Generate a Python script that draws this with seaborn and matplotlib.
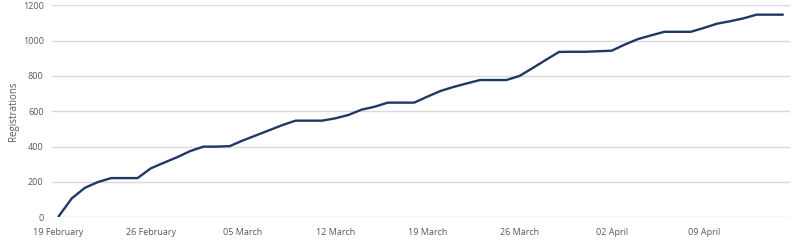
import matplotlib
matplotlib.use("Agg")
import matplotlib.pyplot as plt
import seaborn as sns
import pandas as pd
import numpy as np

start_date = "2021-02-19"
registrations = [5, 107, 167, 200, 222, 222, 222, 277, 309, 340,
                 375, 400, 400, 403, 435, 464, 493, 522, 547, 547,
                 547, 560, 579, 609, 626, 649, 649, 649, 683, 715,
                 738, 758, 777, 777, 777, 800, 845, 891, 936, 937,
                 937, 940, 943, 978, 1009, 1030, 1050, 1050, 1050, 1072,
                 1096, 1110, 1126, 1147, 1147, 1147]
tick_labels = ["19 February", "26 February", "05 March", "12 March",
               "19 March", "26 March", "02 April", "09 April"]
y_ticks = [0, 200, 400, 600, 800, 1000, 1200]

dates = pd.date_range(start_date, periods=len(registrations), freq="D")
df = pd.DataFrame({"date": dates, "Registrations": registrations})

sns.set_theme(style="white")
plt.rcParams["font.family"] = ["Open Sans", "DejaVu Sans"]

fig = plt.figure(figsize=(7.97, 2.43), dpi=100)
ax = fig.add_axes([52 / 797, 1 - 217.3 / 243, (789.5 - 52) / 797, (217.3 - 5.3) / 243])

sns.lineplot(data=df, x="date", y="Registrations", ax=ax, color="#203864", linewidth=1.7)

ax.set_ylim(0, 1200)
ax.set_yticks(y_ticks)
ax.set_xlim(dates[0] - pd.Timedelta(hours=12), dates[-1] + pd.Timedelta(hours=12))
ax.set_xticks(dates[::7])
ax.set_xticklabels(tick_labels)

ax.grid(axis="y", color="#d9d9d9", linewidth=1.0)
ax.set_axisbelow(True)
for side in ["top", "right", "left", "bottom"]:
    ax.spines[side].set_visible(False)
ax.tick_params(axis="both", length=0, labelsize=6.5, colors="#595959")
ax.tick_params(axis="x", pad=8)
ax.tick_params(axis="y", pad=6)
ax.set_xlabel("")
ax.set_ylabel("Registrations", fontsize=7, color="#595959", labelpad=3)

fig.savefig("out.png", dpi=100)
